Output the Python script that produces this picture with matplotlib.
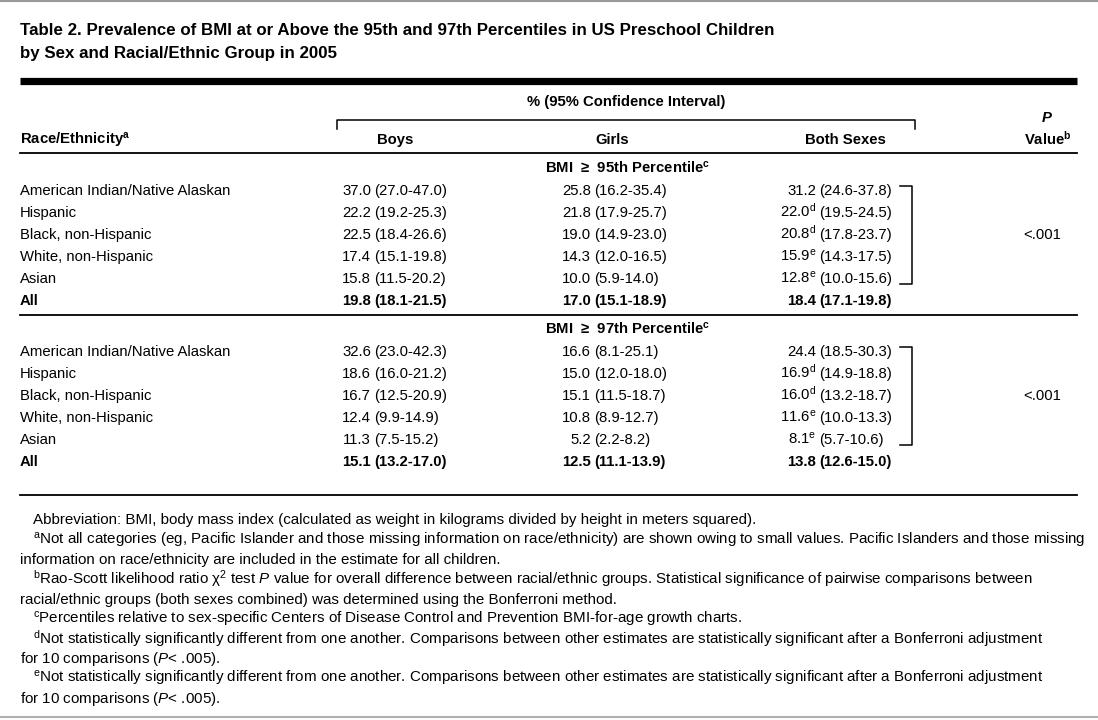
import matplotlib
matplotlib.use("Agg")
import matplotlib.pyplot as plt
from matplotlib import font_manager

BODY = "Liberation Sans"
_names = {f.name for f in font_manager.fontManager.ttflist}
NARROW = "Liberation Sans Narrow" in _names
TITLE = "Liberation Sans Narrow" if NARROW else BODY

plt.rcParams["font.family"] = [BODY, "DejaVu Sans"]
plt.rcParams["mathtext.fontset"] = "custom"
plt.rcParams["mathtext.rm"] = BODY
plt.rcParams["mathtext.it"] = BODY + ":italic"
plt.rcParams["mathtext.bf"] = BODY + ":bold"
plt.rcParams["mathtext.default"] = "regular"

# ---- table data ----
groups = ["American Indian/Native Alaskan", "Hispanic", "Black, non-Hispanic",
          "White, non-Hispanic", "Asian", "All"]
sections = ["BMI  \u2265  95th Percentile", "BMI  \u2265  97th Percentile"]

boys95 = [37.0, 22.2, 22.5, 17.4, 15.8, 19.8]
boys95_lo = [27.0, 19.2, 18.4, 15.1, 11.5, 18.1]
boys95_hi = [47.0, 25.3, 26.6, 19.8, 20.2, 21.5]
girls95 = [25.8, 21.8, 19.0, 14.3, 10.0, 17.0]
girls95_lo = [16.2, 17.9, 14.9, 12.0, 5.9, 15.1]
girls95_hi = [35.4, 25.7, 23.0, 16.5, 14.0, 18.9]
both95 = [31.2, 22.0, 20.8, 15.9, 12.8, 18.4]
both95_lo = [24.6, 19.5, 17.8, 14.3, 10.0, 17.1]
both95_hi = [37.8, 24.5, 23.7, 17.5, 15.6, 19.8]

boys97 = [32.6, 18.6, 16.7, 12.4, 11.3, 15.1]
boys97_lo = [23.0, 16.0, 12.5, 9.9, 7.5, 13.2]
boys97_hi = [42.3, 21.2, 20.9, 14.9, 15.2, 17.0]
girls97 = [16.6, 15.0, 15.1, 10.8, 5.2, 12.5]
girls97_lo = [8.1, 12.0, 11.5, 8.9, 2.2, 11.1]
girls97_hi = [25.1, 18.0, 18.7, 12.7, 8.2, 13.9]
both97 = [24.4, 16.9, 16.0, 11.6, 8.1, 13.8]
both97_lo = [18.5, 14.9, 13.2, 10.0, 5.7, 12.6]
both97_hi = [30.3, 18.8, 18.7, 13.3, 10.6, 15.0]

both_marks = ["", "d", "d", "e", "e", ""]
p_values = ["<.001", "<.001"]

title_lines = ["Table 2. Prevalence of BMI at or Above the 95th and 97th Percentiles in US Preschool Children",
               "by Sex and Racial/Ethnic Group in 2005"]

footnotes = [
    (True, "Abbreviation: BMI, body mass index (calculated as weight in kilograms divided by height in meters squared)."),
    (True, "$^{a}$Not all categories (eg, Pacific Islander and those missing information on race/ethnicity) are shown owing to small values. Pacific Islanders and those missing"),
    (False, "information on race/ethnicity are included in the estimate for all children."),
    (True, "$^{b}$Rao-Scott likelihood ratio $\\chi^{2}$ test $\\mathit{P}$ value for overall difference between racial/ethnic groups. Statistical significance of pairwise comparisons between"),
    (False, "racial/ethnic groups (both sexes combined) was determined using the Bonferroni method."),
    (True, "$^{c}$Percentiles relative to sex-specific Centers of Disease Control and Prevention BMI-for-age growth charts."),
    (True, "$^{d}$Not statistically significantly different from one another. Comparisons between other estimates are statistically significant after a Bonferroni adjustment"),
    (False, "for 10 comparisons ($\\mathit{P}$< .005)."),
    (True, "$^{e}$Not statistically significantly different from one another. Comparisons between other estimates are statistically significant after a Bonferroni adjustment"),
    (False, "for 10 comparisons ($\\mathit{P}$< .005)."),
]

data = [
    [(boys95, boys95_lo, boys95_hi), (girls95, girls95_lo, girls95_hi), (both95, both95_lo, both95_hi)],
    [(boys97, boys97_lo, boys97_hi), (girls97, girls97_lo, girls97_hi), (both97, both97_lo, both97_hi)],
]

# ---- layout (pixel coordinates, y down) ----
W, H = 1098, 720
fig = plt.figure(figsize=(W / 100, H / 100), dpi=100)
ax = fig.add_axes([0, 0, 1, 1])
ax.set_xlim(0, W)
ax.set_ylim(H, 0)
ax.axis("off")

FS = 10.7
FN = 10.9
BOLD = "bold"
LEFT, RIGHT = 20, 1077
est_x = [371, 591, 816]   # right edge of estimates
ci_x = [374, 594, 819]    # left edge of CIs


def put(x, yc, s, size=FS, **kw):
    # place text by the centre of its capitals, on a common baseline
    cap = size * 100 / 72 * 0.716
    return ax.text(x, yc + cap / 2, s, fontsize=size, va="baseline", **kw)


# page rules
ax.plot([0, W], [1, 1], color="#9a9a9a", lw=1.5)
ax.plot([0, W], [717, 717], color="#b0b0b0", lw=1.5)

# title
tsize = 13.5 if NARROW else 12.2
for i, line in enumerate(title_lines):
    put(LEFT, 29 + 23 * i, line, size=tsize, family=[TITLE, "DejaVu Sans"], weight=BOLD)

ax.plot([LEFT, RIGHT], [80.5, 80.5], color="black", lw=5.2, solid_capstyle="butt")

# column header
put(626, 101, "% (95% Confidence Interval)", weight=BOLD, ha="center")
ax.plot([336.5, 336.5, 914.5, 914.5], [129, 119.5, 119.5, 129], color="black", lw=1.1)
put(LEFT, 139, "Race/Ethnicity$^{\\mathbf{a}}$", weight=BOLD)
for cx, lab in zip([395.5, 612, 845], ["Boys", "Girls", "Both Sexes"]):
    put(cx, 139, lab, weight=BOLD, ha="center")
put(1047, 117, "P", weight=BOLD, style="italic", ha="center")
put(1072, 139, "Value$^{\\mathbf{b}}$", weight=BOLD, ha="right")
ax.plot([LEFT, RIGHT], [152.5, 152.5], color="black", lw=1.3)

# body
section_y = [167, 328]
row_gap = 22
for s, sec in enumerate(sections):
    ys = section_y[s]
    put(628, ys, sec + "$^{\\mathbf{c}}$", weight=BOLD, ha="center")
    for r, grp in enumerate(groups):
        y = ys + 22.5 + row_gap * r
        w = BOLD if grp == "All" else "normal"
        put(LEFT, y, grp, weight=w)
        for c, (est, lo, hi) in enumerate(data[s]):
            lab = f"{est[r]:.1f}"
            if c == 2 and both_marks[r]:
                lab += "$^{" + both_marks[r] + "}$"
            put(est_x[c], y, lab, weight=w, ha="right")
            put(ci_x[c], y, f"({lo[r]:.1f}-{hi[r]:.1f})", weight=w, ha="left")
    top = ys + 22.5 - 3.5
    bot = ys + 22.5 + row_gap * 4 + 6
    ax.plot([900, 912, 912, 900], [top, top, bot, bot], color="black", lw=1.1)
    put(1023, (top + bot) / 2 - 1, p_values[s], ha="left")
    if s == 0:
        ax.plot([LEFT, RIGHT], [314.5, 314.5], color="black", lw=1.3)

ax.plot([LEFT, RIGHT], [494.5, 494.5], color="black", lw=1.3)

# footnotes
for i, (indent, txt) in enumerate(footnotes):
    put(33 if indent else LEFT, 519 + 19.8 * i, txt, size=FN, ha="left")

fig.savefig("out.png", dpi=100)
